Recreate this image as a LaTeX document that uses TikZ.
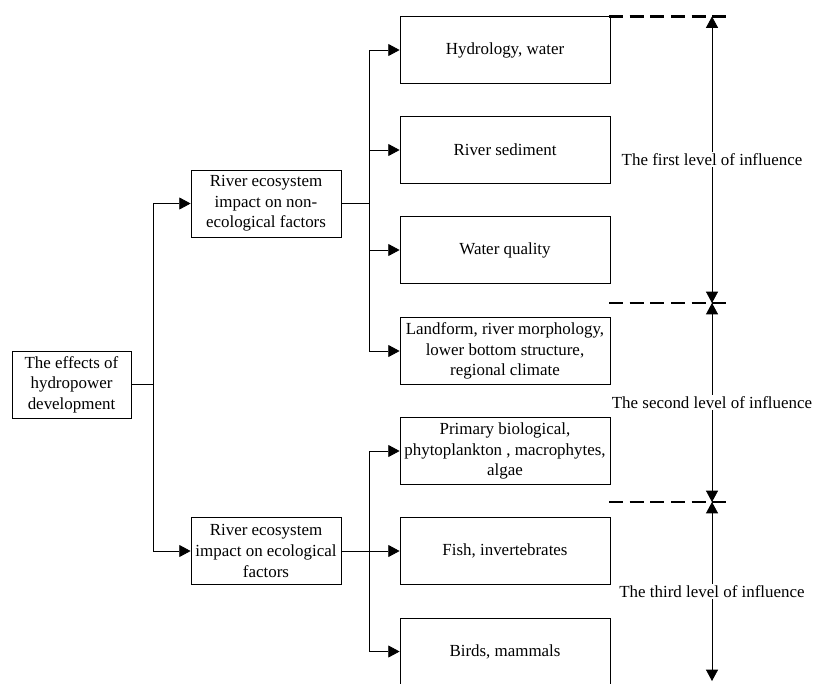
\documentclass[tikz,border=0pt]{standalone}
\usepackage{fontspec}
\setmainfont{Liberation Serif}
\usetikzlibrary{arrows.meta}
\tikzset{
  box/.style={draw, line width=0.6pt, align=center, inner sep=1pt, minimum height=50.25pt},
  rootbox/.style={box, minimum width=89.25pt},
  groupbox/.style={box, minimum width=112.5pt},
  factorbox/.style={box, minimum width=157.5pt},
  wire/.style={line width=0.6pt},
  link/.style={wire, -{Triangle[length=8.5pt,width=9pt]}},
  levelline/.style={line width=2.2pt, dash pattern=on 10.5pt off 5pt},
  levelspan/.style={wire, {Triangle[length=8.5pt,width=9pt]}-{Triangle[length=8.5pt,width=9pt]}},
  leveltext/.style={fill=white, inner sep=1pt}
}
\begin{document}
\begin{tikzpicture}[x=0.75pt, y=-0.75pt, font=\fontsize{12.7}{15.5}\selectfont]
  \useasboundingbox (0,0) rectangle (816,683);
  % Root and the two groups of factors
  \node[rootbox] (root) at (71.5,384.5) {The effects of\\hydropower\\development};
  \node[groupbox] (abio) at (266,203.5) {River ecosystem\\impact on non-\\ecological factors};
  \node[groupbox] (bio) at (266,551) {River ecosystem\\impact on ecological\\factors};
  % Factors
  \node[factorbox] (hydro) at (505,50) {Hydrology, water};
  \node[factorbox] (sed) at (505,150) {River sediment};
  \node[factorbox] (qual) at (505,250) {Water quality};
  \node[factorbox] (land) at (505,351) {Landform, river morphology,\\lower bottom structure,\\regional climate};
  \node[factorbox] (prim) at (505,451) {Primary biological,\\phytoplankton , macrophytes,\\algae};
  \node[factorbox] (fish) at (505,551) {Fish, invertebrates};
  \node[factorbox] (birds) at (505,651.5) {Birds, mammals};
  % Root to groups
  \coordinate (fork) at (153,384.5);
  \draw[wire] (root.east) -- (fork);
  \draw[link] (fork) |- (abio.west);
  \draw[link] (fork) |- (bio.west);
  % Groups to factors
  \coordinate (busA) at (369,203.5);
  \draw[wire] (abio.east) -- (busA);
  \foreach \f in {hydro,sed,qual,land} {
    \draw[link] (busA) |- (\f.west);
  }
  \coordinate (busB) at (369,551);
  \foreach \f in {prim,birds} {
    \draw[link] (busB) |- (\f.west);
  }
  \draw[link] (bio.east) -- (fish.west);
  % Levels of influence
  \foreach \y in {16.5,303,502} {
    \draw[levelline] (609,\y) -- (732,\y);
  }
  \coordinate (lvA) at (712,16.5);
  \coordinate (lvB) at (712,303);
  \coordinate (lvC) at (712,502);
  \coordinate (lvD) at (712,681);
  \draw[levelspan] (lvA) -- (lvB) node[midway, leveltext] {The first level of influence};
  \draw[levelspan] (lvB) -- (lvC) node[midway, leveltext] {The second level of influence};
  \draw[levelspan] (lvC) -- (lvD) node[midway, leveltext] {The third level of influence};
\end{tikzpicture}
\end{document}
